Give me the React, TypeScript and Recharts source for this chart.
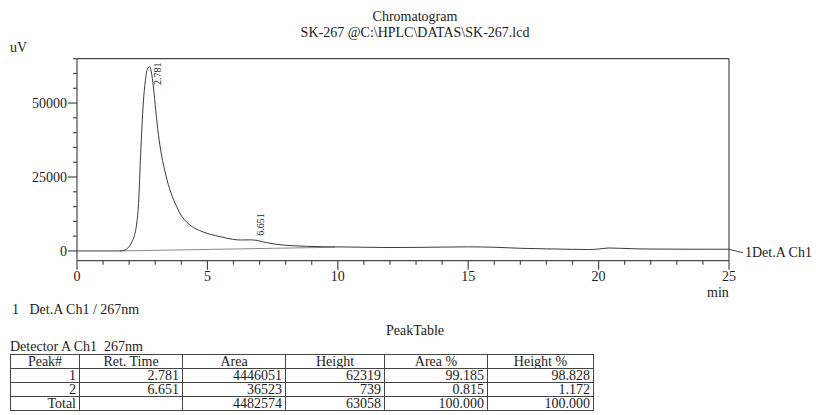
import React from 'react';
import { LineChart, Line, XAxis, YAxis, ReferenceLine, ReferenceDot } from 'recharts';

const times = [0, 1.0, 1.5, 1.7, 1.8, 1.9, 2.0, 2.1, 2.2, 2.3, 2.36, 2.44, 2.54, 2.62, 2.7, 2.781, 2.85, 2.93, 3.02, 3.12, 3.25, 3.37, 3.5, 3.65, 3.82, 4.01, 4.2, 4.4, 4.7, 5.0, 5.3, 5.5, 5.75, 5.99, 6.3, 6.651, 6.9, 7.27, 7.6, 7.9, 8.3, 8.8, 9.5, 10.2, 11, 12, 13, 14, 15, 16, 17, 18, 19, 19.6, 20.0, 20.4, 20.8, 21.5, 22, 23, 24, 25];
const signal = [0, 0, 0, 50, 200, 600, 1500, 3000, 5200, 10000, 16000, 32600, 49700, 57500, 61500, 62319, 60500, 55400, 47500, 39500, 32000, 27000, 22500, 18500, 15000, 11800, 9800, 8300, 6900, 5900, 5200, 4800, 4300, 3900, 3700, 3750, 3550, 2800, 2300, 2000, 1750, 1550, 1400, 1350, 1250, 1150, 1200, 1300, 1380, 1250, 900, 700, 550, 480, 650, 1000, 900, 700, 650, 600, 580, 570];

const baselineTimes = [1.65, 9.9];
const baselineValues = [0, 1250];

const peakTimes = [2.781, 6.651];
const peakApex = [62319, 3750];
const peakLabels = ['2.781', '6.651'];

const xTicks = [0, 1, 2, 3, 4, 5, 6, 7, 8, 9, 10, 11, 12, 13, 14, 15, 16, 17, 18, 19, 20, 21, 22, 23, 24, 25];
const xLabelTicks = [0, 5, 10, 15, 20, 25];
const yTicks = [0, 5000, 10000, 15000, 20000, 25000, 30000, 35000, 40000, 45000, 50000, 55000, 60000, 65000];
const yLabelTicks = [0, 25000, 50000];

const tableHeader = ['Peak#', 'Ret. Time', 'Area', 'Height', 'Area %', 'Height %'];
const row1 = ['1', '2.781', '4446051', '62319', '99.185', '98.828'];
const row2 = ['2', '6.651', '36523', '739', '0.815', '1.172'];
const rowTotal = ['Total', '', '4482574', '63058', '100.000', '100.000'];

const FONT = '"Liberation Serif", "Times New Roman", serif';
const TEXT = '#1c1c1c';
const AXIS = '#4a4a4a';

const signalData = times.map((t, i) => ({ t, v: signal[i] }));
const baselineData = baselineTimes.map((t, i) => ({ t, v: baselineValues[i] }));

const XTick = (props: any) => {
  const { x, y, payload } = props;
  const major = xLabelTicks.includes(payload.value);
  return (
    <g>
      <line x1={x} x2={x} y1={y} y2={y + (major ? 9 : 4)} stroke={AXIS} strokeWidth={1.2} />
      {major && (
        <text x={x} y={y + 20} textAnchor="middle" fontSize={14} fontFamily={FONT} fill={TEXT}>
          {payload.value}
        </text>
      )}
    </g>
  );
};

const YTick = (props: any) => {
  const { x, y, payload } = props;
  const major = yLabelTicks.includes(payload.value);
  return (
    <g>
      <line x1={x - (major ? 9 : 4)} x2={x} y1={y} y2={y} stroke={AXIS} strokeWidth={1.2} />
      {major && (
        <text x={x - 10} y={y + 5} textAnchor="end" fontSize={14} fontFamily={FONT} fill={TEXT}>
          {payload.value}
        </text>
      )}
    </g>
  );
};

const labelOffsets = [
  { dx: 11.5, dy: 18.4 },
  { dx: 13.5, dy: -4 },
];

const makePeakShape = (i: number) => (p: any) => (
  <text
    x={0}
    y={0}
    transform={`translate(${p.cx + labelOffsets[i].dx},${p.cy + labelOffsets[i].dy}) rotate(-90)`}
    fontSize={10}
    fontFamily={FONT}
    fill={TEXT}
  >
    {peakLabels[i]}
  </text>
);

const channelShape = (p: any) => (
  <g>
    <line x1={p.cx} y1={p.cy} x2={p.cx + 14} y2={p.cy + 3.5} stroke={AXIS} strokeWidth={1} />
    <text x={p.cx + 16} y={p.cy + 8} fontSize={14} fontFamily={FONT} fill={TEXT}>
      1Det.A Ch1
    </text>
  </g>
);

const colWidths = [69, 103, 103, 99, 103, 106];

const cellStyle = (align: 'center' | 'right'): React.CSSProperties => ({
  border: '1px solid #444',
  padding: '0 3px',
  height: 13,
  lineHeight: '13px',
  textAlign: align,
  whiteSpace: 'nowrap',
  overflow: 'hidden',
});

const abs = (left: number, top: number, extra: React.CSSProperties = {}): React.CSSProperties => ({
  position: 'absolute',
  left,
  top,
  fontFamily: FONT,
  fontSize: 14,
  color: TEXT,
  lineHeight: '16px',
  whiteSpace: 'pre',
  ...extra,
});

export default function App() {
  return (
    <div style={{ position: 'absolute', left: 0, top: 0, width: 816, height: 415, background: '#fff', overflow: 'hidden' }}>
      <div style={abs(415, 9, { transform: 'translateX(-50%)', textAlign: 'center' })}>Chromatogram</div>
      <div style={abs(415, 25, { transform: 'translateX(-50%)', textAlign: 'center' })}>SK-267 @C:\HPLC\DATAS\SK-267.lcd</div>
      <div style={abs(10, 40)}>uV</div>
      <div style={abs(707, 285)}>min</div>

      <div style={{ position: 'absolute', left: 0, top: 0 }}>
        <LineChart width={816} height={300} margin={{ top: 58.7, right: 87, left: 17, bottom: 9.3 }}>
          <XAxis
            type="number"
            dataKey="t"
            domain={[0, 25]}
            ticks={xTicks}
            interval={0}
            height={30}
            tickSize={0}
            tickMargin={0}
            tickLine={false}
            axisLine={{ stroke: AXIS, strokeWidth: 1.2 }}
            tick={XTick}
            allowDataOverflow
          />
          <YAxis
            type="number"
            domain={[-3300, 65000]}
            ticks={yTicks}
            interval={0}
            width={60}
            tickSize={0}
            tickMargin={0}
            tickLine={false}
            axisLine={{ stroke: AXIS, strokeWidth: 1.2 }}
            tick={YTick}
            allowDataOverflow
          />
          <ReferenceLine y={65000} stroke={AXIS} strokeWidth={1.2} />
          <ReferenceLine x={25} stroke={AXIS} strokeWidth={1.2} />
          <Line
            data={baselineData}
            dataKey="v"
            type="linear"
            stroke="#8a8a8a"
            strokeWidth={1}
            dot={false}
            isAnimationActive={false}
          />
          <Line
            data={signalData}
            dataKey="v"
            type="monotone"
            stroke="#3a3a3a"
            strokeWidth={1}
            dot={false}
            isAnimationActive={false}
          />
          {peakTimes.map((t, i) => (
            <ReferenceDot key={t} x={t} y={peakApex[i]} r={1} shape={makePeakShape(i)} />
          ))}
          <ReferenceDot x={times[times.length - 1]} y={signal[signal.length - 1]} r={1} shape={channelShape} />
        </LineChart>
      </div>

      <div style={abs(12, 302)}>{'1   Det.A Ch1 / 267nm'}</div>
      <div style={abs(415, 323, { transform: 'translateX(-50%)' })}>PeakTable</div>
      <div style={abs(10, 339)}>Detector A Ch1  267nm</div>

      <table
        style={{
          position: 'absolute',
          left: 10,
          top: 354,
          width: 583,
          borderCollapse: 'collapse',
          tableLayout: 'fixed',
          fontFamily: FONT,
          fontSize: 14,
          color: TEXT,
          border: '1.5px solid #333',
        }}
      >
        <colgroup>
          {colWidths.map((w, i) => (
            <col key={i} style={{ width: w }} />
          ))}
        </colgroup>
        <tbody>
          <tr>
            {tableHeader.map((h, i) => (
              <td key={i} style={cellStyle('center')}>{h}</td>
            ))}
          </tr>
          {[row1, row2, rowTotal].map((r, ri) => (
            <tr key={ri}>
              {r.map((c, ci) => (
                <td key={ci} style={cellStyle('right')}>{c}</td>
              ))}
            </tr>
          ))}
        </tbody>
      </table>
    </div>
  );
}
